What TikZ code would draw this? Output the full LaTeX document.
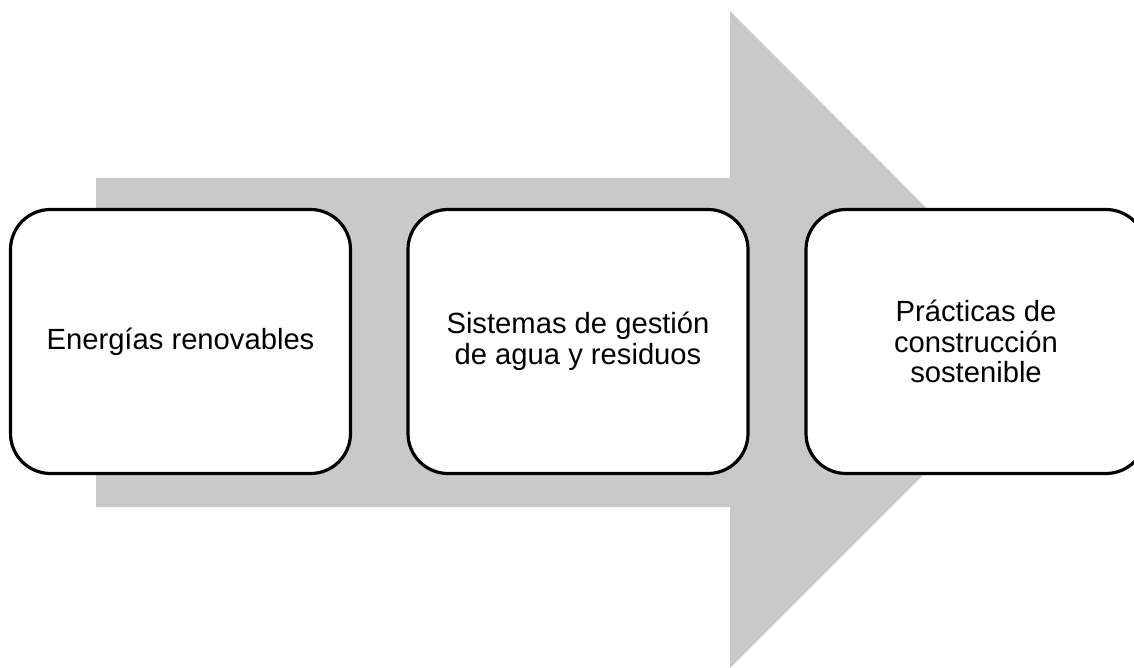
\documentclass[tikz,border=0pt]{standalone}
\usepackage{fontspec}
\setmainfont{Liberation Sans}
\definecolor{arrowgray}{RGB}{201,201,201}
\begin{document}
\begin{tikzpicture}[x=1pt,y=-1pt,
  stagebox/.style={draw=black, line width=3.2pt, fill=white, rounded corners=40pt,
    minimum width=340pt, minimum height=264pt, align=center, inner sep=0pt,
    font=\fontsize{29.2}{30.5}\selectfont}]
\useasboundingbox (0,0) rectangle (1134,668);
\clip (0,0) rectangle (1134,668);
\fill[arrowgray] (96,178) -- (730,178) -- (730,11) -- (1058,340) -- (730,668) -- (730,507) -- (96,507) -- cycle;
\node[stagebox] (s1) at (180.5,341.5) {Energías renovables};
\node[stagebox] (s2) at (578,341.5) {Sistemas de gestión\\de agua y residuos};
\node[stagebox] (s3) at (976,341.5) {Prácticas de\\construcción\\sostenible};
\end{tikzpicture}
\end{document}
